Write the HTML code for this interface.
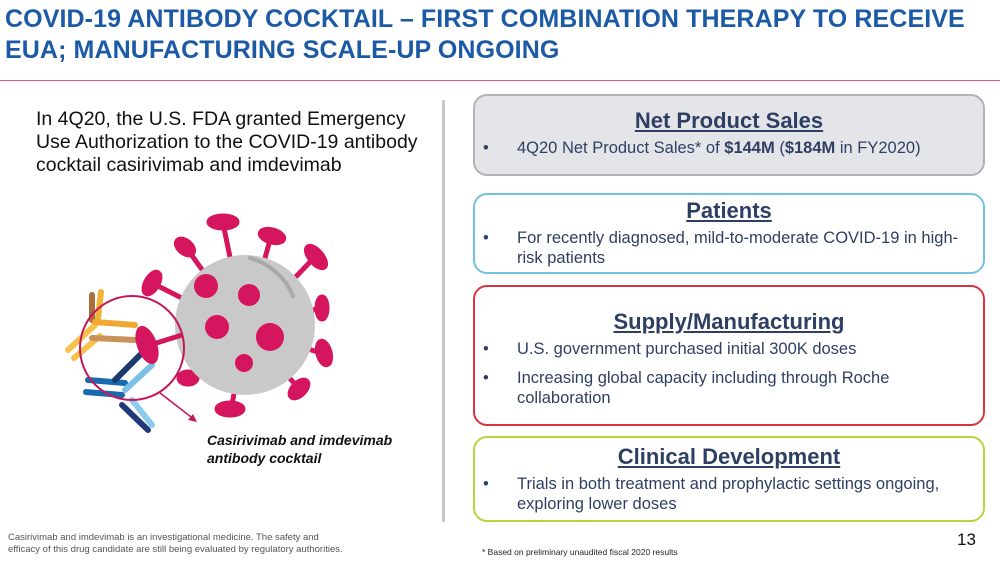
<!DOCTYPE html>
<html><head><meta charset="utf-8">
<style>
body{margin:0;width:1000px;height:563px;background:#fff;position:relative;overflow:hidden;font-family:"Liberation Sans",Arial,sans-serif}
.a{position:absolute}
h1{position:absolute;left:5px;top:4px;margin:0;font-size:25px;line-height:31px;color:#1c5aa6;font-weight:bold;letter-spacing:0.1px}
.box{position:absolute;left:473px;width:512px;border:2px solid;border-radius:14px;box-sizing:border-box;color:#2f3f63}
.box h2{margin:0;text-align:center;font-size:22px;text-decoration:underline;font-weight:bold;color:#2f3f63}
.box .li{position:relative;padding-left:42px;padding-right:14px;font-size:16.5px;line-height:20px;margin-top:4px}
.box .li:before{content:"•";position:absolute;left:8px}
</style></head><body>
<h1>COVID-19 ANTIBODY COCKTAIL – FIRST COMBINATION THERAPY TO RECEIVE<br>EUA; MANUFACTURING SCALE-UP ONGOING</h1>
<div class="a" style="left:0;top:80px;width:1000px;height:1px;background:#d85a86"></div>
<div class="a" style="left:36px;top:108px;width:395px;font-size:19.5px;line-height:23px;color:#111">In 4Q20, the U.S. FDA granted Emergency Use Authorization to the COVID-19 antibody cocktail casirivimab and imdevimab</div>
<div class="a" style="left:442px;top:100px;width:3px;height:422px;background:#c8c8c8"></div>

<svg class="a" style="left:0;top:190px" width="440" height="300" viewBox="0 190 440 300">
<g stroke="#d6155f" stroke-width="5" stroke-linecap="round" fill="#d6155f">
<line x1="245" y1="330" x2="224" y2="228"/><ellipse cx="223" cy="222" rx="14" ry="6"/>
<line x1="245" y1="330" x2="270" y2="240"/><ellipse cx="272" cy="236" rx="12" ry="6" transform="rotate(15 272 236)"/>
<line x1="245" y1="330" x2="310" y2="262"/><ellipse cx="316" cy="257" rx="13" ry="6" transform="rotate(50 316 257)"/>
<line x1="245" y1="330" x2="320" y2="308"/><ellipse cx="322" cy="308" rx="5" ry="11"/>
<line x1="245" y1="330" x2="318" y2="352"/><ellipse cx="324" cy="353" rx="6" ry="12" transform="rotate(-15 324 353)"/>
<line x1="245" y1="330" x2="295" y2="384"/><ellipse cx="299" cy="389" rx="11" ry="6" transform="rotate(-45 299 389)"/>
<line x1="245" y1="330" x2="232" y2="405"/><ellipse cx="230" cy="409" rx="13" ry="6"/>
<line x1="245" y1="330" x2="190" y2="376"/><ellipse cx="188" cy="378" rx="9" ry="6"/>
<line x1="245" y1="330" x2="158" y2="286"/><ellipse cx="152" cy="283" rx="6" ry="12" transform="rotate(30 152 283)"/>
<line x1="245" y1="330" x2="188" y2="250"/><ellipse cx="185" cy="247" rx="10" ry="6" transform="rotate(40 185 247)"/>
</g>
<circle cx="245" cy="325" r="70" fill="#c9c9c9"/>
<path d="M250 258 A65 65 0 0 1 293 296" stroke="#a9a9a9" stroke-width="4" fill="none" stroke-linecap="round"/>
<g fill="#d6155f"><circle cx="206" cy="286" r="12"/><circle cx="249" cy="295" r="11"/><circle cx="217" cy="327" r="12"/><circle cx="270" cy="337" r="14"/><circle cx="244" cy="363" r="9"/></g>
<g stroke-width="6" stroke-linecap="round">
<line x1="92" y1="295" x2="92" y2="320" stroke="#a9703e"/><line x1="101" y1="292" x2="98" y2="318" stroke="#f0b33a"/>
<line x1="68" y1="350" x2="95" y2="325" stroke="#f5c24a"/><line x1="74" y1="358" x2="100" y2="336" stroke="#f5c24a"/>
<line x1="95" y1="322" x2="135" y2="325" stroke="#f0a830"/><line x1="92" y1="338" x2="135" y2="340" stroke="#c8925a"/>
<line x1="88" y1="380" x2="125" y2="383" stroke="#1a6ab0"/><line x1="86" y1="392" x2="122" y2="395" stroke="#1a6ab0"/>
<line x1="115" y1="380" x2="140" y2="355" stroke="#1a3a70"/><line x1="125" y1="390" x2="152" y2="365" stroke="#7cc0e8"/>
<line x1="122" y1="405" x2="148" y2="430" stroke="#223a7a"/><line x1="132" y1="400" x2="152" y2="425" stroke="#8ccaf0"/>
</g>
<line x1="150" y1="345" x2="182" y2="335" stroke="#d6155f" stroke-width="5"/>
<ellipse cx="147" cy="345" rx="10" ry="20" fill="#d6155f" transform="rotate(-20 147 345)"/>
<circle cx="132" cy="348" r="52" fill="none" stroke="#c2185b" stroke-width="2"/>
<line x1="160" y1="393" x2="195" y2="420" stroke="#c2185b" stroke-width="1.5"/>
<polygon points="197,422 188,420 193,414" fill="#c2185b"/>
</svg>
<div class="a" style="left:207px;top:431px;font-size:14px;line-height:18px;font-weight:bold;font-style:italic;color:#111">Casirivimab and imdevimab<br>antibody cocktail</div>

<div class="box" style="top:94px;height:82px;background:#e4e5e8;border-color:#b3b3b3;padding-top:12px">
<h2>Net Product Sales</h2>
<div class="li">4Q20 Net Product Sales* of <b>$144M</b> (<b>$184M</b> in FY2020)</div></div>

<div class="box" style="top:193px;height:81px;border-color:#72c3e3;padding-top:3px">
<h2>Patients</h2>
<div class="li">For recently diagnosed, mild-to-moderate COVID-19 in high-risk patients</div></div>

<div class="box" style="top:285px;height:141px;border-color:#d9343f;padding-top:22px">
<h2>Supply/Manufacturing</h2>
<div class="li">U.S. government purchased initial 300K doses</div>
<div class="li" style="margin-top:9px;padding-right:60px">Increasing global capacity including through Roche collaboration</div></div>

<div class="box" style="top:436px;height:86px;border-color:#b6d63c;padding-top:6px">
<h2>Clinical Development</h2>
<div class="li">Trials in both treatment and prophylactic settings ongoing, exploring lower doses</div></div>

<div class="a" style="left:957px;top:530px;font-size:17px;color:#111">13</div>
<div class="a" style="left:482px;top:547px;font-size:8.5px;color:#222">* Based on preliminary unaudited fiscal 2020 results</div>
<div class="a" style="left:8px;top:532px;font-size:9.5px;line-height:12px;color:#555">Casirivimab and imdevimab is an investigational medicine. The safety and<br>efficacy of this drug candidate are still being evaluated by regulatory authorities.</div>
</body></html>
